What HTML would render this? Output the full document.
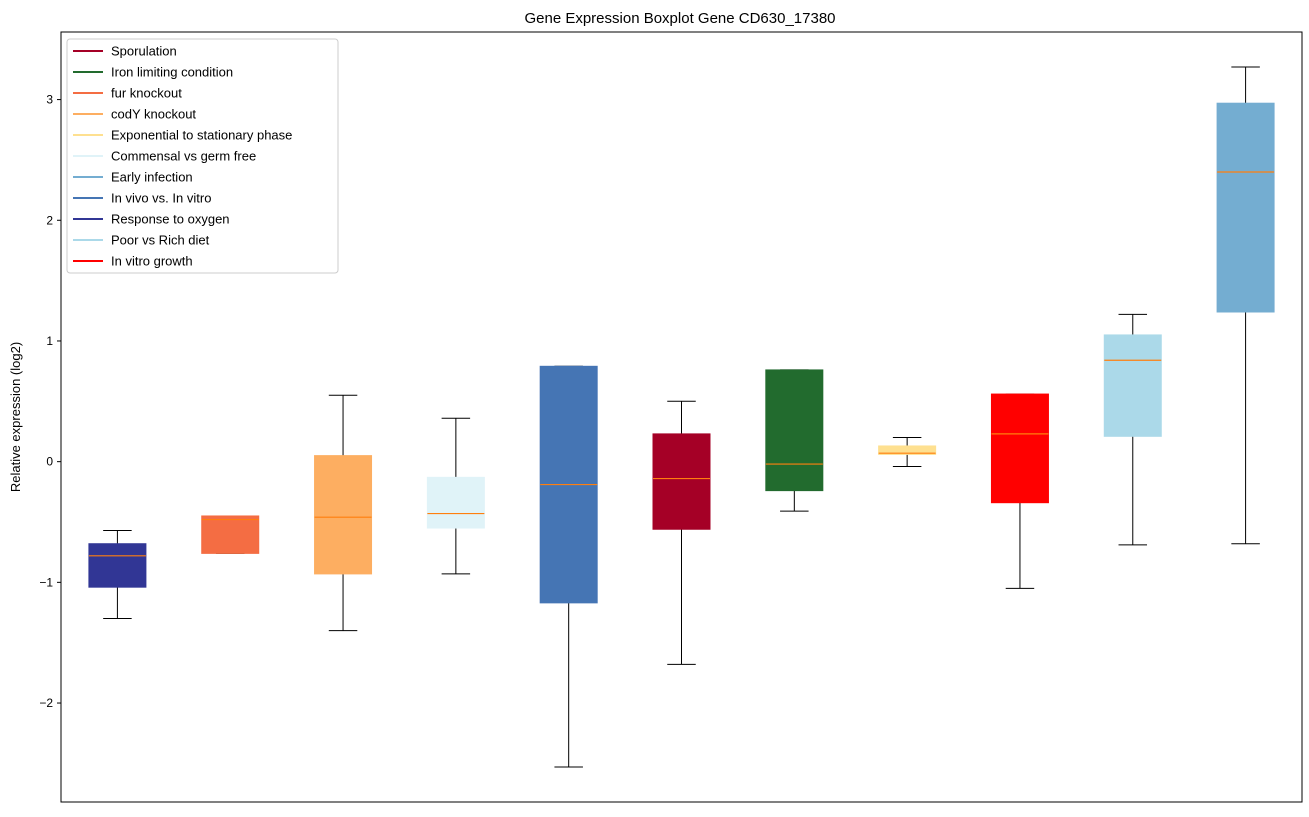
<!DOCTYPE html>
<html><head><meta charset="utf-8">
<style>
body{margin:0;background:#fff;font-family:"Liberation Sans","DejaVu Sans",sans-serif;}
svg text{font-family:"Liberation Sans","DejaVu Sans",sans-serif;}
</style></head>
<body>
<svg id="chart" width="1309" height="812" xmlns="http://www.w3.org/2000/svg">
<rect width="1309" height="812" fill="#fff"/>
<text x="680" y="23" font-size="15" text-anchor="middle" fill="#000">Gene Expression Boxplot Gene CD630_17380</text>
<text transform="translate(20,417) rotate(-90)" font-size="13" text-anchor="middle" fill="#000">Relative expression (log2)</text>
<g id="marks"></g>
<g id="axes"></g>
<g id="legend"></g>
</svg>
<script>
const categories=["Response to oxygen","fur knockout","codY knockout","Commensal vs germ free","In vivo vs. In vitro","Sporulation","Iron limiting condition","Exponential to stationary phase","In vitro growth","Poor vs Rich diet","Early infection"];
const colors=["#313695","#f46d43","#fdae61","#e0f3f8","#4575b4","#a50026","#226b2e","#fee090","#ff0000","#abd9e9","#74add1"];
const whiskerLow=[-1.30,-0.76,-1.40,-0.93,-2.53,-1.68,-0.41,-0.04,-1.05,-0.69,-0.68];
const q1=[-1.04,-0.76,-0.93,-0.55,-1.17,-0.56,-0.24,0.06,-0.34,0.21,1.24];
const medians=[-0.78,-0.48,-0.46,-0.43,-0.19,-0.14,-0.02,0.07,0.23,0.84,2.40];
const q3=[-0.68,-0.45,0.05,-0.13,0.79,0.23,0.76,0.13,0.56,1.05,2.97];
const whiskerHigh=[-0.57,-0.45,0.55,0.36,0.79,0.50,0.76,0.20,0.56,1.22,3.27];
const yTicks=[-2,-1,0,1,2,3];
const yTickLabels=["\u22122","\u22121","0","1","2","3"];
const legendLabels=["Sporulation","Iron limiting condition","fur knockout","codY knockout","Exponential to stationary phase","Commensal vs germ free","Early infection","In vivo vs. In vitro","Response to oxygen","Poor vs Rich diet","In vitro growth"];
const legendColors=["#a50026","#226b2e","#f46d43","#fdae61","#fee090","#e0f3f8","#74add1","#4575b4","#313695","#abd9e9","#ff0000"];

const NS="http://www.w3.org/2000/svg";
const L=61,R=1302,T=32,B=802;
const yMin=-2.82,yMax=3.56;
function y(v){return B-(v-yMin)/(yMax-yMin)*(B-T);}
const step=(R-L)/categories.length;
function x(i){return L+step*(i+0.5);}
function mk(tag,attrs,parent){const e=document.createElementNS(NS,tag);for(const k in attrs)e.setAttribute(k,attrs[k]);parent.appendChild(e);return e;}
const marks=document.getElementById('marks');
const bw=57;
categories.forEach((c,i)=>{
  const g=mk('g',{},marks);
  
  
  const cx=x(i);
  mk('line',{x1:cx,x2:cx,y1:y(whiskerLow[i]),y2:y(q1[i]),stroke:'#000','stroke-width':1},g);
  mk('line',{x1:cx,x2:cx,y1:y(q3[i]),y2:y(whiskerHigh[i]),stroke:'#000','stroke-width':1},g);
  mk('line',{x1:cx-bw/4,x2:cx+bw/4,y1:y(whiskerLow[i]),y2:y(whiskerLow[i]),stroke:'#000','stroke-width':1},g);
  mk('line',{x1:cx-bw/4,x2:cx+bw/4,y1:y(whiskerHigh[i]),y2:y(whiskerHigh[i]),stroke:'#000','stroke-width':1},g);
  mk('rect',{x:cx-bw/2,y:y(q3[i]),width:bw,height:Math.max(1,y(q1[i])-y(q3[i])),fill:colors[i],stroke:colors[i]},g);
  mk('line',{x1:cx-bw/2,x2:cx+bw/2,y1:y(medians[i]),y2:y(medians[i]),stroke:'#ff7f0e','stroke-width':1.2},g);
});
const axes=document.getElementById('axes');
const frame=mk('rect',{x:L,y:T,width:R-L,height:B-T,fill:'none',stroke:'#000','stroke-width':1},axes);


yTicks.forEach((t,i)=>{
  mk('line',{x1:L-4,x2:L,y1:y(t),y2:y(t),stroke:'#000'},axes);
  const tx=mk('text',{x:L-8,y:y(t)+4,'font-size':12,'text-anchor':'end',fill:'#000'},axes);
  tx.textContent=yTickLabels[i];
  
  
});
const lg=document.getElementById('legend');


mk('rect',{x:67,y:39,width:271,height:234,rx:3,fill:'#fff','fill-opacity':0.8,stroke:'#ccc'},lg);
legendLabels.forEach((l,i)=>{
  const g=mk('g',{},lg);
  
  
  const yy=51+i*21;
  mk('line',{x1:73,x2:103,y1:yy,y2:yy,stroke:legendColors[i],'stroke-width':2},g);
  const t=mk('text',{x:111,y:yy+4.5,'font-size':13,fill:'#000'},g);
  t.textContent=l;
});
</script>
</body></html>
